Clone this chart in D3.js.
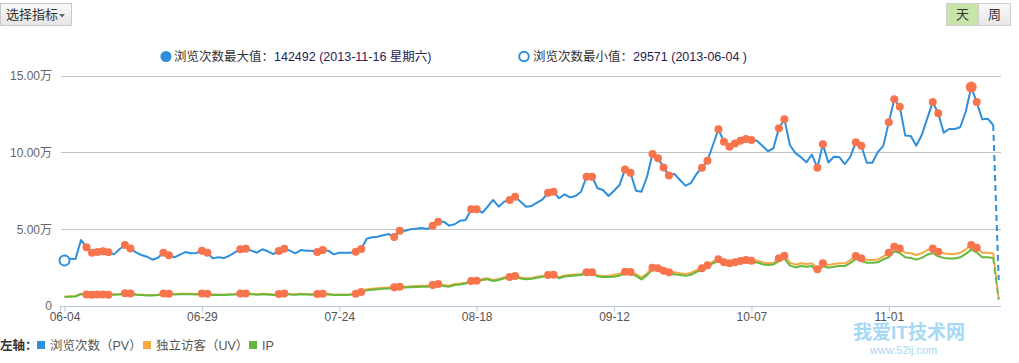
<!DOCTYPE html>
<html>
<head>
<meta charset="utf-8">
<script src="https://cdn.jsdelivr.net/npm/d3@7"></script>
<style>
  body { margin: 0; background: #fff; }
  svg text { font-family: "Liberation Sans", Arial, "Noto Sans CJK SC", sans-serif; }
</style>
</head>
<body>
<svg width="1019" height="363"></svg>
<script>
// daily values from 2013-06-04
var startDay = "2013-06-04";
var pv = [29571,30800,30600,43000,38200,34700,35100,35600,34900,33600,36900,39700,37500,34900,33200,32100,30100,31400,34700,33000,
  31700,33400,35100,34300,34500,36000,34700,31000,31700,31200,32700,34900,36900,37300,36000,34700,36900,35600,33800,35800,
  37300,36000,34300,36400,36000,36000,35100,36400,36000,33600,34700,34700,34700,35300,37100,43800,44700,45100,46000,46800,
  44900,49000,49000,49900,50300,50700,50100,52300,54900,54900,52300,53200,55500,56000,62900,62900,60700,64600,69000,64600,
  67900,69000,71100,67900,64600,65100,67200,69400,73700,74400,70100,72700,70700,71600,74400,84100,84100,76600,75500,71600,
  75000,78700,88900,86700,75000,74400,84100,98900,96100,90200,85000,85900,82000,78300,80000,85900,90000,94500,104800,115000,
  106900,103600,105800,107600,108700,108000,107600,104300,100700,102600,115600,121600,104800,99500,96900,93500,98500,90000,105200,93400,
  97100,96900,92400,97100,106600,104300,93200,93200,100100,104200,119500,134500,129700,110900,110600,104300,111300,122100,132700,125400,
  112800,115200,115200,116300,126400,142492,132700,121500,121900,117800,16900];
var uv = [6100,6400,6500,8000,7500,7400,7500,7500,7400,7600,7800,8300,8100,7600,7400,7200,7100,7400,8100,8000,
  7800,7900,8000,7900,7800,8100,7900,7500,7500,7400,7600,7800,8100,8200,7900,7700,7900,7800,7500,7800,
  8100,7800,7600,7900,7800,7700,7800,8000,7800,7400,7500,7500,7600,7900,9100,10900,11200,11500,11800,12000,
  12200,12600,12600,12800,13000,13100,13200,13600,14300,13600,13200,14300,14600,15200,16300,16400,17500,18000,16900,17500,
  18700,18800,19500,18500,18000,18300,19000,19600,20200,20300,18700,19800,20200,20500,20800,21900,21900,19800,19500,19500,
  20300,21000,22300,22100,20800,18500,21300,24900,24500,23000,21900,21900,21300,20800,21500,23400,24500,26500,29000,30400,
  28400,27800,28400,29300,29900,29500,29600,28400,27800,28200,31000,32700,28200,26900,27800,27300,27800,23900,27800,26700,
  27300,27800,27800,29900,32500,31000,29900,29900,30200,32100,34700,38600,37500,34700,34300,33200,34300,36400,37500,35300,
  34300,33900,33900,34700,36900,39700,37900,34700,34700,34300,4500];
var ip = [5900,6100,6200,7700,7200,7100,7200,7200,7100,7300,7500,8000,7800,7300,7100,6900,6800,7100,7800,7700,
  7500,7600,7700,7600,7500,7800,7600,7200,7200,7100,7300,7500,7800,7900,7600,7400,7600,7500,7200,7500,
  7800,7500,7300,7600,7500,7400,7500,7700,7500,7100,7200,7200,7300,7600,8700,10300,10600,10900,11200,11400,
  11600,12000,12000,12200,12400,12500,12600,13000,13700,13000,12600,13700,14000,14600,15700,15800,16900,17400,16300,16900,
  18100,18200,18900,17900,17400,17700,18400,19000,19600,19700,18100,19200,19600,19900,20200,21300,21300,19200,18900,18900,
  19100,19800,21100,20900,19600,17300,20100,23700,23300,21800,20700,20700,20100,19600,20300,22200,23300,25300,27800,29200,
  27200,26600,27200,28100,28700,28300,28400,27200,26600,27000,29200,30900,26400,25100,26000,25500,26000,22100,26000,24900,
  25500,26000,26000,28100,30700,29200,28100,28100,28400,30300,31700,35600,34500,31700,31300,30200,31300,33400,34500,32300,
  31300,30900,30900,31700,33900,36700,34900,31700,31700,31300,4200];
// weekends and holidays, marked with dots
var markDays = ["06-08","06-09","06-10","06-11","06-12","06-15","06-16","06-22","06-23","06-29","06-30",
  "07-06","07-07","07-13","07-14","07-20","07-21","07-27","07-28","08-03","08-04","08-10","08-11",
  "08-17","08-18","08-24","08-25","08-31","09-01","09-07","09-08","09-14","09-15","09-19","09-20",
  "09-21","09-22","09-28","09-29","10-01","10-02","10-03","10-04","10-05","10-06","10-07","10-12",
  "10-13","10-19","10-20","10-26","10-27","11-01","11-02","11-03","11-09","11-10","11-16","11-17"];
var tickLabels = ["06-04","06-29","07-24","08-18","09-12","10-07","11-01"];
var yTicks = [0, 50000, 100000, 150000];
var maxText = "142492 (2013-11-16 星期六)";
var minText = "29571 (2013-06-04 )";

var svg = d3.select("svg");
var parse = d3.timeParse("%Y-%m-%d");
var fmt = d3.timeFormat("%m-%d");
var t0 = parse(startDay);
var dates = pv.map(function(d, i) { return d3.timeDay.offset(t0, i); });
var rows = dates.map(function(d, i) { return {date: d, pv: pv[i], uv: uv[i], ip: ip[i]}; });

var plotL = 60, plotR = 1001, plotT = 75.5, plotB = 306;
var x = d3.scaleTime().domain([dates[0], dates[dates.length - 1]]).range([64.5, 998.7]);
var y = d3.scaleLinear().domain([0, 150000]).range([plotB, plotT]);

// gridlines
svg.append("g").selectAll("line")
  .data(yTicks.filter(function(d) { return d > 0; }))
  .enter().append("line")
    .attr("x1", plotL + 1).attr("x2", plotR)
    .attr("y1", function(d) { return Math.round(y(d)) + 0.5; })
    .attr("y2", function(d) { return Math.round(y(d)) + 0.5; })
    .attr("stroke", "#c4c4c4");

// y labels
var yAxis = svg.append("g")
    .attr("transform", "translate(" + (plotL - 8) + ",0)")
    .call(d3.axisLeft(y).tickValues(yTicks).tickSize(0)
      .tickFormat(function(d) { return d === 0 ? "0" : (d / 10000).toFixed(2) + "万"; }));
yAxis.select(".domain").remove();
yAxis.selectAll("text").attr("x", 0).attr("fill", "#666").style("font-size", "12px");

// x axis
var xAxis = svg.append("g")
    .attr("transform", "translate(0," + (plotB + 0.5) + ")")
    .call(d3.axisBottom(x).tickValues(tickLabels.map(function(s) { return parse("2013-" + s); }))
      .tickFormat(fmt).tickSize(5).tickSizeOuter(0));
xAxis.select(".domain").attr("d", "M" + plotL + ",0H" + plotR).attr("stroke", "#b3c5dd");
xAxis.selectAll(".tick line").attr("stroke", "#b3c5dd");
xAxis.selectAll("text").attr("fill", "#555").attr("dy", "0.5em").style("font-size", "12px");
xAxis.append("line").attr("x1", plotL + 0.5).attr("x2", plotL + 0.5).attr("y1", 0).attr("y2", 5).attr("stroke", "#b3c5dd");

// lines
var series = [
  {key: "uv", color: "#f5a945"},
  {key: "ip", color: "#66b83c"},
  {key: "pv", color: "#2f8fdb"}
];
var n = rows.length;
series.forEach(function(s) {
  var line = d3.line()
      .x(function(d) { return x(d.date); })
      .y(function(d) { return y(d[s.key]); });
  svg.append("path").datum(rows.slice(0, n - 1))
      .attr("d", line).attr("fill", "none")
      .attr("stroke", s.color).attr("stroke-width", 2).attr("stroke-linejoin", "round");
  svg.append("path").datum(rows.slice(n - 2))
      .attr("d", line).attr("fill", "none")
      .attr("stroke", s.color).attr("stroke-width", 2).attr("stroke-dasharray", "6,4");
});

// weekend / holiday dots
var marked = rows.filter(function(d) { return markDays.indexOf(fmt(d.date)) >= 0; });
["pv", "uv"].forEach(function(k) {
  svg.append("g").selectAll("circle")
    .data(marked).enter().append("circle")
      .attr("cx", function(d) { return x(d.date); })
      .attr("cy", function(d) { return y(d[k]); })
      .attr("r", function(d) { return (k == "pv" && d.pv == d3.max(pv)) ? 5.5 : 4; })
      .attr("fill", "#f8744c");
});

// min marker
var iMin = d3.minIndex(pv.slice(0, n - 1));
svg.append("circle")
    .attr("cx", x(rows[iMin].date)).attr("cy", y(pv[iMin])).attr("r", 5)
    .attr("fill", "#fff").attr("stroke", "#2f8fdb").attr("stroke-width", 2);

// top legend
svg.append("circle").attr("cx", 166).attr("cy", 56.5).attr("r", 5.5).attr("fill", "#2f8fdb");
var t1 = svg.append("text").attr("x", 174).attr("y", 61).style("font-size", "12.5px");
t1.append("tspan").attr("fill", "#333").text("浏览次数最大值：");
t1.append("tspan").attr("fill", "#2a2150").text(maxText);
svg.append("circle").attr("cx", 524).attr("cy", 56.5).attr("r", 4.8)
    .attr("fill", "#fff").attr("stroke", "#2f8fdb").attr("stroke-width", 2);
var t2 = svg.append("text").attr("x", 533).attr("y", 61).style("font-size", "12.5px");
t2.append("tspan").attr("fill", "#333").text("浏览次数最小值：");
t2.append("tspan").attr("fill", "#2a2150").text(minText);

// buttons
var grad = svg.append("defs").append("linearGradient").attr("id", "btn").attr("x1", 0).attr("x2", 0).attr("y1", 0).attr("y2", 1);
grad.append("stop").attr("offset", "0%").attr("stop-color", "#fafafa");
grad.append("stop").attr("offset", "100%").attr("stop-color", "#e6e6e6");
svg.append("rect").attr("x", 0.5).attr("y", 3.5).attr("width", 71).attr("height", 22)
    .attr("fill", "url(#btn)").attr("stroke", "#c8c8c8");
svg.append("text").attr("x", 6).attr("y", 19).attr("fill", "#333").style("font-size", "13px").text("选择指标");
svg.append("path").attr("d", "M59,14L65,14L62,17.5Z").attr("fill", "#666");

svg.append("rect").attr("x", 946.5).attr("y", 3.5).attr("width", 32).attr("height", 22)
    .attr("fill", "#c9e4a8").attr("stroke", "#cfcfcf");
svg.append("rect").attr("x", 978.5).attr("y", 3.5).attr("width", 32).attr("height", 22)
    .attr("fill", "url(#btn)").attr("stroke", "#cfcfcf");
svg.append("text").attr("x", 962.5).attr("y", 19).attr("text-anchor", "middle").attr("fill", "#333").style("font-size", "13px").text("天");
svg.append("text").attr("x", 994.5).attr("y", 19).attr("text-anchor", "middle").attr("fill", "#333").style("font-size", "13px").text("周");

// bottom legend
var legend = [
  {name: "浏览次数（PV）", color: "#2f8fdb", x: 37},
  {name: "独立访客（UV）", color: "#f5a945", x: 143},
  {name: "IP", color: "#66b83c", x: 249}
];
svg.append("text").attr("x", 0).attr("y", 350).attr("fill", "#333").style("font-size", "12.5px").style("font-weight", "bold").text("左轴：");
legend.forEach(function(l) {
  svg.append("rect").attr("x", l.x).attr("y", 341).attr("width", 8).attr("height", 8).attr("fill", l.color);
  svg.append("text").attr("x", l.x + 13).attr("y", 350).attr("fill", "#555").style("font-size", "12.5px").text(l.name);
});

// watermark
svg.append("text").attr("x", 853).attr("y", 339).attr("fill", "#8fd0f5").attr("opacity", 0.8)
    .style("font-size", "19px").style("font-weight", "bold").text("我爱IT技术网");
svg.append("text").attr("x", 870).attr("y", 354).attr("fill", "#8fd0f5").attr("opacity", 0.8)
    .style("font-size", "11px").text("www.52ij.com");
</script>
</body>
</html>
